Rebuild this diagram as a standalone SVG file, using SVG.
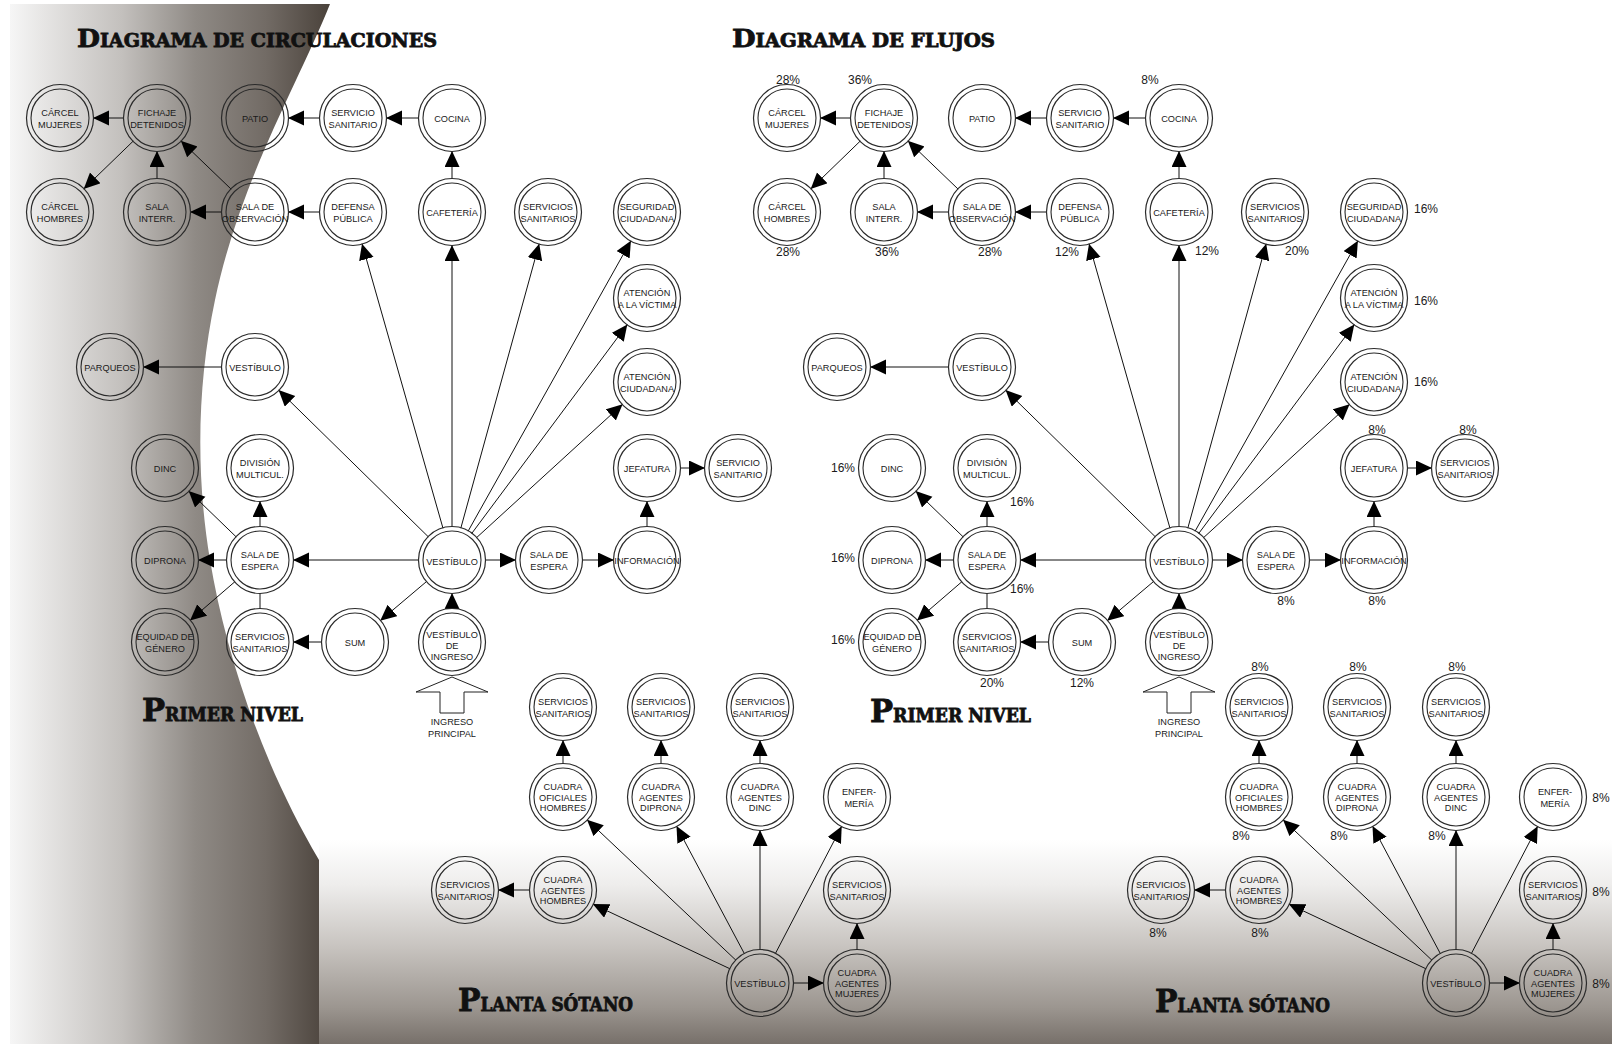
<svg xmlns="http://www.w3.org/2000/svg" width="1612" height="1044" viewBox="0 0 1612 1044">
<defs>
<linearGradient id="band" gradientUnits="userSpaceOnUse" x1="10" y1="0" x2="330" y2="0">
<stop offset="0" stop-color="#f6f6f6"/><stop offset="0.1" stop-color="#e7e6e5"/><stop offset="0.35" stop-color="#c3c0bd"/><stop offset="0.58" stop-color="#8f8a85"/><stop offset="0.8" stop-color="#726b65"/><stop offset="1" stop-color="#4a423b"/>
</linearGradient>
<linearGradient id="floor" gradientUnits="userSpaceOnUse" x1="0" y1="840" x2="0" y2="1044">
<stop offset="0" stop-color="#ffffff"/><stop offset="0.22" stop-color="#eeedec"/><stop offset="0.52" stop-color="#c8c4c0"/><stop offset="0.82" stop-color="#9c9690"/><stop offset="1" stop-color="#77706a"/>
</linearGradient>
<marker id="ah" markerUnits="userSpaceOnUse" markerWidth="17" markerHeight="16" refX="16" refY="7.5" orient="auto" viewBox="0 0 17 16"><path d="M0,0 L16,7.5 L0,15 Z" fill="#000"/></marker>
<style>
.o{fill:none;stroke:#2a2a2a;stroke-width:1.2}
.i{fill:none;stroke:#2a2a2a;stroke-width:1.1}
.t{font-family:"Liberation Sans",Arial,sans-serif;font-size:9.2px;fill:#1a1a1a;text-anchor:middle}
.p{font-family:"Liberation Sans",Arial,sans-serif;font-size:12px;fill:#1a1a1a;text-anchor:middle}
.e{stroke:#111;stroke-width:1;fill:none}
.a{marker-end:url(#ah)}
.h{font-family:"DejaVu Serif","Liberation Serif",serif;font-weight:bold;fill:#111;stroke:#111;stroke-width:0.8}
.ing{fill:#fff;stroke:#222;stroke-width:1}
</style>
</defs>
<rect width="1612" height="1044" fill="#fff"/>
<g id="background">
<rect x="319" y="840" width="1293" height="204" fill="url(#floor)"/>
<path d="M10,4 L330,4 C300,80 240,180 215,300 C198,380 195,470 210,560 C225,650 260,760 319,860 L319,1044 L10,1044 Z" fill="url(#band)"/>
</g>
<g id="titles">
<text class="h" x="77" y="47" textLength="360" lengthAdjust="spacingAndGlyphs"><tspan font-size="25">D</tspan><tspan font-size="18">IAGRAMA DE CIRCULACIONES</tspan></text>
<text class="h" x="732" y="47" textLength="263" lengthAdjust="spacingAndGlyphs"><tspan font-size="25">D</tspan><tspan font-size="18">IAGRAMA DE FLUJOS</tspan></text>
<text class="h" x="142" y="721" textLength="161" lengthAdjust="spacingAndGlyphs"><tspan font-size="32">P</tspan><tspan font-size="18">RIMER NIVEL</tspan></text>
<text class="h" x="870" y="722" textLength="161" lengthAdjust="spacingAndGlyphs"><tspan font-size="32">P</tspan><tspan font-size="18">RIMER NIVEL</tspan></text>
<text class="h" x="458" y="1011" textLength="175" lengthAdjust="spacingAndGlyphs"><tspan font-size="32">P</tspan><tspan font-size="18">LANTA SÓTANO</tspan></text>
<text class="h" x="1155" y="1012" textLength="175" lengthAdjust="spacingAndGlyphs"><tspan font-size="32">P</tspan><tspan font-size="18">LANTA SÓTANO</tspan></text>
</g>
<g id="connectors-circulaciones">
<path class="e a" d="M124,118L93,118"/>
<path class="e a" d="M133.3,141L83.7,189"/>
<path class="e a" d="M157,179L157,151"/>
<path class="e a" d="M231.2,189.2L180.8,140.8"/>
<path class="e a" d="M222,212L190,212"/>
<path class="e a" d="M320,212L288,212"/>
<path class="e a" d="M320,118L288,118"/>
<path class="e a" d="M419,118L386,118"/>
<path class="e a" d="M452,179L452,151"/>
<path class="e a" d="M452,527L452,245"/>
<path class="e a" d="M443,528.3L362,243.7"/>
<path class="e a" d="M460.8,528.2L539.2,243.8"/>
<path class="e a" d="M468.1,531.2L630.9,240.8"/>
<path class="e a" d="M471.7,533.5L627.3,324.5"/>
<path class="e a" d="M476.4,537.8L622.6,404.2"/>
<path class="e a" d="M428.4,536.9L278.6,390.1"/>
<path class="e a" d="M222,367L143,367"/>
<path class="e a" d="M419,560L293,560"/>
<path class="e a" d="M485,560L516,560"/>
<path class="e a" d="M582,560L614,560"/>
<path class="e a" d="M647,527L647,501"/>
<path class="e a" d="M680,468L705,468"/>
<path class="e a" d="M426.8,581.3L380.2,620.7"/>
<path class="e a" d="M452,609L452,593"/>
<path class="e a" d="M322,642L293,642"/>
<path class="e" d="M260,593L260,609"/>
<path class="e a" d="M260,527L260,501"/>
<path class="e a" d="M236.3,537L188.7,491"/>
<path class="e a" d="M227,560L198,560"/>
<path class="e a" d="M235,581.6L190,620.4"/>
<path class="e a" d="M730.2,968.9L592.8,904.1"/>
<path class="e a" d="M736,960.3L587,819.7"/>
<path class="e a" d="M744.5,953.9L676.5,826.1"/>
<path class="e a" d="M760,950L760,830"/>
<path class="e a" d="M775.3,953.7L841.7,826.3"/>
<path class="e a" d="M793,983L824,983"/>
<path class="e a" d="M857,950L857,923"/>
<path class="e a" d="M530,890L498,890"/>
<path class="e a" d="M563,764L563,740"/>
<path class="e a" d="M661,764L661,740"/>
<path class="e a" d="M760,764L760,740"/>
</g>
<g id="connectors-flujos">
<g transform="translate(727,0)">
<path class="e a" d="M124,118L93,118"/>
<path class="e a" d="M133.3,141L83.7,189"/>
<path class="e a" d="M157,179L157,151"/>
<path class="e a" d="M231.2,189.2L180.8,140.8"/>
<path class="e a" d="M222,212L190,212"/>
<path class="e a" d="M320,212L288,212"/>
<path class="e a" d="M320,118L288,118"/>
<path class="e a" d="M419,118L386,118"/>
<path class="e a" d="M452,179L452,151"/>
<path class="e a" d="M452,527L452,245"/>
<path class="e a" d="M443,528.3L362,243.7"/>
<path class="e a" d="M460.8,528.2L539.2,243.8"/>
<path class="e a" d="M468.1,531.2L630.9,240.8"/>
<path class="e a" d="M471.7,533.5L627.3,324.5"/>
<path class="e a" d="M476.4,537.8L622.6,404.2"/>
<path class="e a" d="M428.4,536.9L278.6,390.1"/>
<path class="e a" d="M222,367L143,367"/>
<path class="e a" d="M419,560L293,560"/>
<path class="e a" d="M485,560L516,560"/>
<path class="e a" d="M582,560L614,560"/>
<path class="e a" d="M647,527L647,501"/>
<path class="e a" d="M680,468L705,468"/>
<path class="e a" d="M426.8,581.3L380.2,620.7"/>
<path class="e a" d="M452,609L452,593"/>
<path class="e a" d="M322,642L293,642"/>
<path class="e" d="M260,593L260,609"/>
<path class="e a" d="M260,527L260,501"/>
<path class="e a" d="M236.3,537L188.7,491"/>
<path class="e a" d="M227,560L198,560"/>
<path class="e a" d="M235,581.6L190,620.4"/>
</g>
<g transform="translate(696,0)">
<path class="e a" d="M730.2,968.9L592.8,904.1"/>
<path class="e a" d="M736,960.3L587,819.7"/>
<path class="e a" d="M744.5,953.9L676.5,826.1"/>
<path class="e a" d="M760,950L760,830"/>
<path class="e a" d="M775.3,953.7L841.7,826.3"/>
<path class="e a" d="M793,983L824,983"/>
<path class="e a" d="M857,950L857,923"/>
<path class="e a" d="M530,890L498,890"/>
<path class="e a" d="M563,764L563,740"/>
<path class="e a" d="M661,764L661,740"/>
<path class="e a" d="M760,764L760,740"/>
</g>
</g>
<g id="ingreso-principal-circ">
<polygon class="ing" points="452,677 488,692 464,692 464,713 440,713 440,692 416,692"/>
<text class="t"><tspan x="452" y="724.5">INGRESO</tspan><tspan x="452" y="736.5">PRINCIPAL</tspan></text>
</g>
<g id="ingreso-principal-flujos">
<polygon class="ing" points="1179,677 1215,692 1191,692 1191,713 1167,713 1167,692 1143,692"/>
<text class="t"><tspan x="1179" y="724.5">INGRESO</tspan><tspan x="1179" y="736.5">PRINCIPAL</tspan></text>
</g>
<g id="nodes-circulaciones">
<g id="c-carcel-mujeres" transform="translate(60,118)"><circle class="o" r="33.5"/><circle class="i" r="29"/><text class="t"><tspan x="0" y="-2">CÁRCEL</tspan><tspan x="0" y="9.5">MUJERES</tspan></text></g>
<g id="c-fichaje" transform="translate(157,118)"><circle class="o" r="33.5"/><circle class="i" r="29"/><text class="t"><tspan x="0" y="-2">FICHAJE</tspan><tspan x="0" y="9.5">DETENIDOS</tspan></text></g>
<g id="c-patio" transform="translate(255,118)"><circle class="o" r="33.5"/><circle class="i" r="29"/><text class="t" y="3.5">PATIO</text></g>
<g id="c-servicio-1" transform="translate(353,118)"><circle class="o" r="33.5"/><circle class="i" r="29"/><text class="t"><tspan x="0" y="-2">SERVICIO</tspan><tspan x="0" y="9.5">SANITARIO</tspan></text></g>
<g id="c-cocina" transform="translate(452,118)"><circle class="o" r="33.5"/><circle class="i" r="29"/><text class="t" y="3.5">COCINA</text></g>
<g id="c-carcel-hombres" transform="translate(60,212)"><circle class="o" r="33.5"/><circle class="i" r="29"/><text class="t"><tspan x="0" y="-2">CÁRCEL</tspan><tspan x="0" y="9.5">HOMBRES</tspan></text></g>
<g id="c-sala-interr" transform="translate(157,212)"><circle class="o" r="33.5"/><circle class="i" r="29"/><text class="t"><tspan x="0" y="-2">SALA</tspan><tspan x="0" y="9.5">INTERR.</tspan></text></g>
<g id="c-sala-observacion" transform="translate(255,212)"><circle class="o" r="33.5"/><circle class="i" r="29"/><text class="t"><tspan x="0" y="-2">SALA DE</tspan><tspan x="0" y="9.5">OBSERVACIÓN</tspan></text></g>
<g id="c-defensa" transform="translate(353,212)"><circle class="o" r="33.5"/><circle class="i" r="29"/><text class="t"><tspan x="0" y="-2">DEFENSA</tspan><tspan x="0" y="9.5">PÚBLICA</tspan></text></g>
<g id="c-cafeteria" transform="translate(452,212)"><circle class="o" r="33.5"/><circle class="i" r="29"/><text class="t" y="3.5">CAFETERÍA</text></g>
<g id="c-servicios-2" transform="translate(548,212)"><circle class="o" r="33.5"/><circle class="i" r="29"/><text class="t"><tspan x="0" y="-2">SERVICIOS</tspan><tspan x="0" y="9.5">SANITARIOS</tspan></text></g>
<g id="c-seguridad" transform="translate(647,212)"><circle class="o" r="33.5"/><circle class="i" r="29"/><text class="t"><tspan x="0" y="-2">SEGURIDAD</tspan><tspan x="0" y="9.5">CIUDADANA</tspan></text></g>
<g id="c-atencion-victima" transform="translate(647,298)"><circle class="o" r="33.5"/><circle class="i" r="29"/><text class="t"><tspan x="0" y="-2">ATENCIÓN</tspan><tspan x="0" y="9.5">A LA VÍCTIMA</tspan></text></g>
<g id="c-atencion-ciudadana" transform="translate(647,382)"><circle class="o" r="33.5"/><circle class="i" r="29"/><text class="t"><tspan x="0" y="-2">ATENCIÓN</tspan><tspan x="0" y="9.5">CIUDADANA</tspan></text></g>
<g id="c-vestibulo-2" transform="translate(255,367)"><circle class="o" r="33.5"/><circle class="i" r="29"/><text class="t" y="3.5">VESTÍBULO</text></g>
<g id="c-parqueos" transform="translate(110,367)"><circle class="o" r="33.5"/><circle class="i" r="29"/><text class="t" y="3.5">PARQUEOS</text></g>
<g id="c-dinc" transform="translate(165,468)"><circle class="o" r="33.5"/><circle class="i" r="29"/><text class="t" y="3.5">DINC</text></g>
<g id="c-division" transform="translate(260,468)"><circle class="o" r="33.5"/><circle class="i" r="29"/><text class="t"><tspan x="0" y="-2">DIVISIÓN</tspan><tspan x="0" y="9.5">MULTICUL.</tspan></text></g>
<g id="c-jefatura" transform="translate(647,468)"><circle class="o" r="33.5"/><circle class="i" r="29"/><text class="t" y="3.5">JEFATURA</text></g>
<g id="c-servicio-3" transform="translate(738,468)"><circle class="o" r="33.5"/><circle class="i" r="29"/><text class="t"><tspan x="0" y="-2">SERVICIO</tspan><tspan x="0" y="9.5">SANITARIO</tspan></text></g>
<g id="c-diprona" transform="translate(165,560)"><circle class="o" r="33.5"/><circle class="i" r="29"/><text class="t" y="3.5">DIPRONA</text></g>
<g id="c-sala-espera" transform="translate(260,560)"><circle class="o" r="33.5"/><circle class="i" r="29"/><text class="t"><tspan x="0" y="-2">SALA DE</tspan><tspan x="0" y="9.5">ESPERA</tspan></text></g>
<g id="c-vestibulo" transform="translate(452,560)"><circle class="o" r="33.5"/><circle class="i" r="29"/><text class="t" y="5">VESTÍBULO</text></g>
<g id="c-sala-espera-2" transform="translate(549,560)"><circle class="o" r="33.5"/><circle class="i" r="29"/><text class="t"><tspan x="0" y="-2">SALA DE</tspan><tspan x="0" y="9.5">ESPERA</tspan></text></g>
<g id="c-informacion" transform="translate(647,560)"><circle class="o" r="33.5"/><circle class="i" r="29"/><text class="t" y="3.5">INFORMACIÓN</text></g>
<g id="c-equidad" transform="translate(165,642)"><circle class="o" r="33.5"/><circle class="i" r="29"/><text class="t"><tspan x="0" y="-2">EQUIDAD DE</tspan><tspan x="0" y="9.5">GÉNERO</tspan></text></g>
<g id="c-servicios-4" transform="translate(260,642)"><circle class="o" r="33.5"/><circle class="i" r="29"/><text class="t"><tspan x="0" y="-2">SERVICIOS</tspan><tspan x="0" y="9.5">SANITARIOS</tspan></text></g>
<g id="c-sum" transform="translate(355,642)"><circle class="o" r="33.5"/><circle class="i" r="29"/><text class="t" y="3.5">SUM</text></g>
<g id="c-vestibulo-ingreso" transform="translate(452,642)"><circle class="o" r="33.5"/><circle class="i" r="29"/><text class="t"><tspan x="0" y="-4">VESTÍBULO</tspan><tspan x="0" y="7">DE</tspan><tspan x="0" y="18">INGRESO</tspan></text></g>
<g id="c-s-servicios-a" transform="translate(563,707)"><circle class="o" r="33.5"/><circle class="i" r="29"/><text class="t"><tspan x="0" y="-2">SERVICIOS</tspan><tspan x="0" y="9.5">SANITARIOS</tspan></text></g>
<g id="c-s-servicios-b" transform="translate(661,707)"><circle class="o" r="33.5"/><circle class="i" r="29"/><text class="t"><tspan x="0" y="-2">SERVICIOS</tspan><tspan x="0" y="9.5">SANITARIOS</tspan></text></g>
<g id="c-s-servicios-c" transform="translate(760,707)"><circle class="o" r="33.5"/><circle class="i" r="29"/><text class="t"><tspan x="0" y="-2">SERVICIOS</tspan><tspan x="0" y="9.5">SANITARIOS</tspan></text></g>
<g id="c-s-oficiales" transform="translate(563,797)"><circle class="o" r="33.5"/><circle class="i" r="29"/><text class="t"><tspan x="0" y="-7.5">CUADRA</tspan><tspan x="0" y="3.5">OFICIALES</tspan><tspan x="0" y="14">HOMBRES</tspan></text></g>
<g id="c-s-diprona" transform="translate(661,797)"><circle class="o" r="33.5"/><circle class="i" r="29"/><text class="t"><tspan x="0" y="-7.5">CUADRA</tspan><tspan x="0" y="3.5">AGENTES</tspan><tspan x="0" y="14">DIPRONA</tspan></text></g>
<g id="c-s-dinc" transform="translate(760,797)"><circle class="o" r="33.5"/><circle class="i" r="29"/><text class="t"><tspan x="0" y="-7.5">CUADRA</tspan><tspan x="0" y="3.5">AGENTES</tspan><tspan x="0" y="14">DINC</tspan></text></g>
<g id="c-s-enfermeria" transform="translate(857,797)"><circle class="o" r="33.5"/><circle class="i" r="29"/><text class="t"><tspan x="2" y="-2">ENFER-</tspan><tspan x="2" y="9.5">MERÍA</tspan></text></g>
<g id="c-s-servicios-l" transform="translate(465,890)"><circle class="o" r="33.5"/><circle class="i" r="29"/><text class="t"><tspan x="0" y="-2">SERVICIOS</tspan><tspan x="0" y="9.5">SANITARIOS</tspan></text></g>
<g id="c-s-hombres" transform="translate(563,890)"><circle class="o" r="33.5"/><circle class="i" r="29"/><text class="t"><tspan x="0" y="-7.5">CUADRA</tspan><tspan x="0" y="3.5">AGENTES</tspan><tspan x="0" y="14">HOMBRES</tspan></text></g>
<g id="c-s-servicios-r" transform="translate(857,890)"><circle class="o" r="33.5"/><circle class="i" r="29"/><text class="t"><tspan x="0" y="-2">SERVICIOS</tspan><tspan x="0" y="9.5">SANITARIOS</tspan></text></g>
<g id="c-s-vestibulo" transform="translate(760,983)"><circle class="o" r="33.5"/><circle class="i" r="29"/><text class="t" y="3.5">VESTÍBULO</text></g>
<g id="c-s-mujeres" transform="translate(857,983)"><circle class="o" r="33.5"/><circle class="i" r="29"/><text class="t"><tspan x="0" y="-7.5">CUADRA</tspan><tspan x="0" y="3.5">AGENTES</tspan><tspan x="0" y="14">MUJERES</tspan></text></g>
</g>
<g id="nodes-flujos">
<g id="f-carcel-mujeres" transform="translate(787,118)"><circle class="o" r="33.5"/><circle class="i" r="29"/><text class="t"><tspan x="0" y="-2">CÁRCEL</tspan><tspan x="0" y="9.5">MUJERES</tspan></text></g>
<g id="f-fichaje" transform="translate(884,118)"><circle class="o" r="33.5"/><circle class="i" r="29"/><text class="t"><tspan x="0" y="-2">FICHAJE</tspan><tspan x="0" y="9.5">DETENIDOS</tspan></text></g>
<g id="f-patio" transform="translate(982,118)"><circle class="o" r="33.5"/><circle class="i" r="29"/><text class="t" y="3.5">PATIO</text></g>
<g id="f-servicio-1" transform="translate(1080,118)"><circle class="o" r="33.5"/><circle class="i" r="29"/><text class="t"><tspan x="0" y="-2">SERVICIO</tspan><tspan x="0" y="9.5">SANITARIO</tspan></text></g>
<g id="f-cocina" transform="translate(1179,118)"><circle class="o" r="33.5"/><circle class="i" r="29"/><text class="t" y="3.5">COCINA</text></g>
<g id="f-carcel-hombres" transform="translate(787,212)"><circle class="o" r="33.5"/><circle class="i" r="29"/><text class="t"><tspan x="0" y="-2">CÁRCEL</tspan><tspan x="0" y="9.5">HOMBRES</tspan></text></g>
<g id="f-sala-interr" transform="translate(884,212)"><circle class="o" r="33.5"/><circle class="i" r="29"/><text class="t"><tspan x="0" y="-2">SALA</tspan><tspan x="0" y="9.5">INTERR.</tspan></text></g>
<g id="f-sala-observacion" transform="translate(982,212)"><circle class="o" r="33.5"/><circle class="i" r="29"/><text class="t"><tspan x="0" y="-2">SALA DE</tspan><tspan x="0" y="9.5">OBSERVACIÓN</tspan></text></g>
<g id="f-defensa" transform="translate(1080,212)"><circle class="o" r="33.5"/><circle class="i" r="29"/><text class="t"><tspan x="0" y="-2">DEFENSA</tspan><tspan x="0" y="9.5">PÚBLICA</tspan></text></g>
<g id="f-cafeteria" transform="translate(1179,212)"><circle class="o" r="33.5"/><circle class="i" r="29"/><text class="t" y="3.5">CAFETERÍA</text></g>
<g id="f-servicios-2" transform="translate(1275,212)"><circle class="o" r="33.5"/><circle class="i" r="29"/><text class="t"><tspan x="0" y="-2">SERVICIOS</tspan><tspan x="0" y="9.5">SANITARIOS</tspan></text></g>
<g id="f-seguridad" transform="translate(1374,212)"><circle class="o" r="33.5"/><circle class="i" r="29"/><text class="t"><tspan x="0" y="-2">SEGURIDAD</tspan><tspan x="0" y="9.5">CIUDADANA</tspan></text></g>
<g id="f-atencion-victima" transform="translate(1374,298)"><circle class="o" r="33.5"/><circle class="i" r="29"/><text class="t"><tspan x="0" y="-2">ATENCIÓN</tspan><tspan x="0" y="9.5">A LA VÍCTIMA</tspan></text></g>
<g id="f-atencion-ciudadana" transform="translate(1374,382)"><circle class="o" r="33.5"/><circle class="i" r="29"/><text class="t"><tspan x="0" y="-2">ATENCIÓN</tspan><tspan x="0" y="9.5">CIUDADANA</tspan></text></g>
<g id="f-vestibulo-2" transform="translate(982,367)"><circle class="o" r="33.5"/><circle class="i" r="29"/><text class="t" y="3.5">VESTÍBULO</text></g>
<g id="f-parqueos" transform="translate(837,367)"><circle class="o" r="33.5"/><circle class="i" r="29"/><text class="t" y="3.5">PARQUEOS</text></g>
<g id="f-dinc" transform="translate(892,468)"><circle class="o" r="33.5"/><circle class="i" r="29"/><text class="t" y="3.5">DINC</text></g>
<g id="f-division" transform="translate(987,468)"><circle class="o" r="33.5"/><circle class="i" r="29"/><text class="t"><tspan x="0" y="-2">DIVISIÓN</tspan><tspan x="0" y="9.5">MULTICUL.</tspan></text></g>
<g id="f-jefatura" transform="translate(1374,468)"><circle class="o" r="33.5"/><circle class="i" r="29"/><text class="t" y="3.5">JEFATURA</text></g>
<g id="f-servicios-3" transform="translate(1465,468)"><circle class="o" r="33.5"/><circle class="i" r="29"/><text class="t"><tspan x="0" y="-2">SERVICIOS</tspan><tspan x="0" y="9.5">SANITARIOS</tspan></text></g>
<g id="f-diprona" transform="translate(892,560)"><circle class="o" r="33.5"/><circle class="i" r="29"/><text class="t" y="3.5">DIPRONA</text></g>
<g id="f-sala-espera" transform="translate(987,560)"><circle class="o" r="33.5"/><circle class="i" r="29"/><text class="t"><tspan x="0" y="-2">SALA DE</tspan><tspan x="0" y="9.5">ESPERA</tspan></text></g>
<g id="f-vestibulo" transform="translate(1179,560)"><circle class="o" r="33.5"/><circle class="i" r="29"/><text class="t" y="5">VESTÍBULO</text></g>
<g id="f-sala-espera-2" transform="translate(1276,560)"><circle class="o" r="33.5"/><circle class="i" r="29"/><text class="t"><tspan x="0" y="-2">SALA DE</tspan><tspan x="0" y="9.5">ESPERA</tspan></text></g>
<g id="f-informacion" transform="translate(1374,560)"><circle class="o" r="33.5"/><circle class="i" r="29"/><text class="t" y="3.5">INFORMACIÓN</text></g>
<g id="f-equidad" transform="translate(892,642)"><circle class="o" r="33.5"/><circle class="i" r="29"/><text class="t"><tspan x="0" y="-2">EQUIDAD DE</tspan><tspan x="0" y="9.5">GÉNERO</tspan></text></g>
<g id="f-servicios-4" transform="translate(987,642)"><circle class="o" r="33.5"/><circle class="i" r="29"/><text class="t"><tspan x="0" y="-2">SERVICIOS</tspan><tspan x="0" y="9.5">SANITARIOS</tspan></text></g>
<g id="f-sum" transform="translate(1082,642)"><circle class="o" r="33.5"/><circle class="i" r="29"/><text class="t" y="3.5">SUM</text></g>
<g id="f-vestibulo-ingreso" transform="translate(1179,642)"><circle class="o" r="33.5"/><circle class="i" r="29"/><text class="t"><tspan x="0" y="-4">VESTÍBULO</tspan><tspan x="0" y="7">DE</tspan><tspan x="0" y="18">INGRESO</tspan></text></g>
<g id="f-s-servicios-a" transform="translate(1259,707)"><circle class="o" r="33.5"/><circle class="i" r="29"/><text class="t"><tspan x="0" y="-2">SERVICIOS</tspan><tspan x="0" y="9.5">SANITARIOS</tspan></text></g>
<g id="f-s-servicios-b" transform="translate(1357,707)"><circle class="o" r="33.5"/><circle class="i" r="29"/><text class="t"><tspan x="0" y="-2">SERVICIOS</tspan><tspan x="0" y="9.5">SANITARIOS</tspan></text></g>
<g id="f-s-servicios-c" transform="translate(1456,707)"><circle class="o" r="33.5"/><circle class="i" r="29"/><text class="t"><tspan x="0" y="-2">SERVICIOS</tspan><tspan x="0" y="9.5">SANITARIOS</tspan></text></g>
<g id="f-s-oficiales" transform="translate(1259,797)"><circle class="o" r="33.5"/><circle class="i" r="29"/><text class="t"><tspan x="0" y="-7.5">CUADRA</tspan><tspan x="0" y="3.5">OFICIALES</tspan><tspan x="0" y="14">HOMBRES</tspan></text></g>
<g id="f-s-diprona" transform="translate(1357,797)"><circle class="o" r="33.5"/><circle class="i" r="29"/><text class="t"><tspan x="0" y="-7.5">CUADRA</tspan><tspan x="0" y="3.5">AGENTES</tspan><tspan x="0" y="14">DIPRONA</tspan></text></g>
<g id="f-s-dinc" transform="translate(1456,797)"><circle class="o" r="33.5"/><circle class="i" r="29"/><text class="t"><tspan x="0" y="-7.5">CUADRA</tspan><tspan x="0" y="3.5">AGENTES</tspan><tspan x="0" y="14">DINC</tspan></text></g>
<g id="f-s-enfermeria" transform="translate(1553,797)"><circle class="o" r="33.5"/><circle class="i" r="29"/><text class="t"><tspan x="2" y="-2">ENFER-</tspan><tspan x="2" y="9.5">MERÍA</tspan></text></g>
<g id="f-s-servicios-l" transform="translate(1161,890)"><circle class="o" r="33.5"/><circle class="i" r="29"/><text class="t"><tspan x="0" y="-2">SERVICIOS</tspan><tspan x="0" y="9.5">SANITARIOS</tspan></text></g>
<g id="f-s-hombres" transform="translate(1259,890)"><circle class="o" r="33.5"/><circle class="i" r="29"/><text class="t"><tspan x="0" y="-7.5">CUADRA</tspan><tspan x="0" y="3.5">AGENTES</tspan><tspan x="0" y="14">HOMBRES</tspan></text></g>
<g id="f-s-servicios-r" transform="translate(1553,890)"><circle class="o" r="33.5"/><circle class="i" r="29"/><text class="t"><tspan x="0" y="-2">SERVICIOS</tspan><tspan x="0" y="9.5">SANITARIOS</tspan></text></g>
<g id="f-s-vestibulo" transform="translate(1456,983)"><circle class="o" r="33.5"/><circle class="i" r="29"/><text class="t" y="3.5">VESTÍBULO</text></g>
<g id="f-s-mujeres" transform="translate(1553,983)"><circle class="o" r="33.5"/><circle class="i" r="29"/><text class="t"><tspan x="0" y="-7.5">CUADRA</tspan><tspan x="0" y="3.5">AGENTES</tspan><tspan x="0" y="14">MUJERES</tspan></text></g>
</g>
<g id="percentages">
<text class="p" x="788" y="84">28%</text>
<text class="p" x="860" y="84">36%</text>
<text class="p" x="1150" y="84">8%</text>
<text class="p" x="788" y="256">28%</text>
<text class="p" x="887" y="256">36%</text>
<text class="p" x="990" y="256">28%</text>
<text class="p" x="1067" y="256">12%</text>
<text class="p" x="1207" y="255">12%</text>
<text class="p" x="1297" y="255">20%</text>
<text class="p" x="1426" y="213">16%</text>
<text class="p" x="1426" y="305">16%</text>
<text class="p" x="1426" y="386">16%</text>
<text class="p" x="1377" y="434">8%</text>
<text class="p" x="1468" y="434">8%</text>
<text class="p" x="1286" y="605">8%</text>
<text class="p" x="1377" y="605">8%</text>
<text class="p" x="843" y="472">16%</text>
<text class="p" x="1022" y="506">16%</text>
<text class="p" x="843" y="562">16%</text>
<text class="p" x="1022" y="593">16%</text>
<text class="p" x="843" y="644">16%</text>
<text class="p" x="992" y="687">20%</text>
<text class="p" x="1082" y="687">12%</text>
<text class="p" x="1260" y="671">8%</text>
<text class="p" x="1358" y="671">8%</text>
<text class="p" x="1457" y="671">8%</text>
<text class="p" x="1241" y="840">8%</text>
<text class="p" x="1339" y="840">8%</text>
<text class="p" x="1437" y="840">8%</text>
<text class="p" x="1601" y="802">8%</text>
<text class="p" x="1601" y="896">8%</text>
<text class="p" x="1601" y="988">8%</text>
<text class="p" x="1158" y="937">8%</text>
<text class="p" x="1260" y="937">8%</text>
</g>
</svg>
